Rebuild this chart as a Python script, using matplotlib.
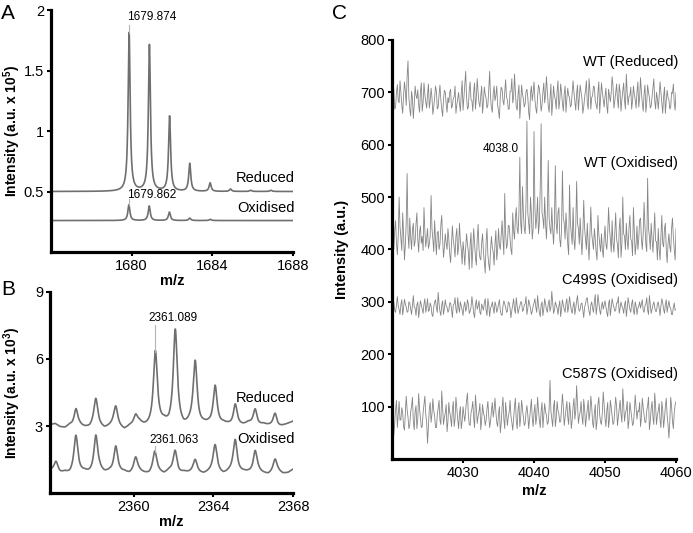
import numpy as np
import matplotlib
matplotlib.use("Agg")
import matplotlib.pyplot as plt

plt.rcParams['font.family'] = ['Liberation Sans', 'DejaVu Sans']
plt.rcParams['mathtext.fontset'] = 'custom'
plt.rcParams['mathtext.rm'] = 'Liberation Sans'
plt.rcParams['mathtext.bf'] = 'Liberation Sans:bold'

# ---------------- Panel A data (peak lists) ----------------
a_red_base = 0.50
a_red_centers = [1679.874, 1680.88, 1681.88, 1682.88, 1683.89, 1684.9, 1685.9, 1686.9]
a_red_tops = [1.81, 1.71, 1.12, 0.73, 0.57, 0.52, 0.51, 0.51]
a_ox_base = 0.26
a_ox_centers = [1679.862, 1680.87, 1681.87, 1682.88, 1683.9]
a_ox_tops = [0.39, 0.38, 0.33, 0.28, 0.27]
a_xticks = [1680, 1684, 1688]
a_yticks = [0.5, 1, 1.5, 2]
a_yticklabels = ['0.5', '1', '1.5', '2']

# ---------------- Panel B data ----------------
b_red_baseline = [3.05, 3.1, 2.95, 2.9, 3.0, 2.85, 2.95, 2.9, 2.88, 3.0, 2.92, 2.85, 2.95, 3.05, 2.9,
                  2.8, 2.95, 3.0, 3.1, 2.95, 2.9, 2.85, 2.95, 3.05, 2.9, 3.0, 2.92, 2.85, 2.98, 3.05,
                  2.9, 3.0, 3.0, 2.9, 2.95, 3.05, 3.0, 2.9, 2.95, 3.0, 3.1, 3.0, 2.95, 3.05, 3.0,
                  2.95, 2.9, 3.0, 3.1, 3.2]
b_ox_baseline = [1.0, 0.95, 0.85, 0.9, 0.8, 0.88, 0.85, 0.9, 0.82, 0.8, 0.92, 0.85, 0.9, 0.8, 0.85,
                 0.9, 0.82, 0.88, 0.92, 0.85, 0.8, 0.9, 0.88, 0.82, 0.95, 0.85, 0.8, 0.9, 0.88, 0.92,
                 0.85, 0.82, 0.9, 0.95, 0.85, 0.8, 0.9, 0.95, 0.85, 0.9, 0.88, 0.82, 0.9, 0.85, 0.8,
                 0.88, 0.92, 0.85, 0.9, 1.05]
b_red_centers = [2357.1, 2358.1, 2359.1, 2360.1, 2361.089, 2362.09, 2363.09, 2364.09, 2365.1, 2366.1, 2367.1]
b_red_tops = [3.75, 4.2, 3.85, 3.45, 6.3, 7.24, 5.84, 4.75, 3.93, 3.73, 3.55]
b_ox_centers = [2356.1, 2357.1, 2358.1, 2359.1, 2360.1, 2361.063, 2362.08, 2363.09, 2364.09, 2365.1, 2366.1, 2367.1]
b_ox_tops = [1.39, 2.55, 2.55, 2.06, 1.57, 1.84, 1.88, 1.46, 2.13, 2.36, 1.87, 1.5]
b_xticks = [2360, 2364, 2368]
b_yticks = [3, 6, 9]

# ---------------- Panel C data (m/z 4020..4060, step 0.125) ----------------
c_wt_red = [
    690, 712, 705, 668, 672, 700, 715, 684, 680, 722, 698, 676, 660, 694, 720, 702, 675, 730, 760, 690,
    668, 655, 702, 688, 650, 676, 712, 694, 688, 705, 676, 662, 700, 718, 664, 680, 718, 696, 682, 670,
    695, 716, 670, 684, 708, 690, 658, 672, 690, 712, 702, 668, 672, 695, 714, 686, 668, 654, 686, 704,
    700, 678, 662, 690, 680, 700, 706, 670, 674, 688, 692, 712, 660, 676, 688, 700, 678, 664, 698, 722,
    666, 690, 716, 740, 690, 668, 672, 704, 720, 686, 684, 664, 700, 718, 668, 690, 726, 700, 680, 672,
    694, 712, 660, 682, 710, 696, 688, 670, 676, 706, 740, 690, 670, 662, 698, 712, 684, 694, 712, 676,
    664, 650, 692, 710, 706, 684, 676, 700, 724, 690, 686, 668, 668, 702, 702, 726, 680, 690, 735, 700,
    672, 666, 696, 714, 650, 680, 714, 696, 688, 672, 678, 702, 706, 690, 662, 648, 698, 712, 684, 700,
    720, 686, 670, 660, 692, 714, 708, 690, 664, 676, 700, 718, 680, 696, 730, 702, 674, 662, 690, 716,
    656, 680, 712, 694, 686, 668, 702, 722, 668, 684, 716, 700, 680, 664, 696, 712, 662, 688, 708, 694,
    690, 672, 676, 698, 722, 700, 684, 666, 698, 714, 666, 690, 714, 700, 688, 660, 672, 690, 704, 722,
    680, 668, 726, 704, 668, 690, 694, 712, 710, 684, 676, 668, 700, 720, 660, 690, 718, 700, 686, 672,
    692, 708, 674, 660, 706, 694, 682, 700, 730, 712, 670, 684, 698, 716, 688, 670, 716, 700, 664, 686,
    702, 718, 684, 668, 735, 700, 676, 692, 694, 710, 668, 684, 712, 696, 686, 670, 700, 720, 672, 690,
    728, 700, 680, 664, 696, 714, 662, 680, 714, 700, 690, 670, 674, 692, 708, 726, 684, 668, 700, 688,
    668, 692, 720, 700, 678, 660, 692, 710, 660, 684, 704, 690, 686, 668, 672, 700, 698, 716, 680, 666,
    700]
c_wt_ox = [
    440, 418, 400, 436, 455, 412, 390, 426, 500, 444, 420, 398, 470, 430, 380, 410, 452, 545, 430, 402,
    460, 424, 400, 438, 450, 406, 415, 448, 470, 420, 395, 432, 445, 412, 425, 398, 480, 436, 405, 420,
    440, 402, 410, 426, 503, 440, 420, 396, 455, 418, 390, 432, 435, 400, 410, 446, 465, 420, 385, 404,
    430, 412, 400, 440, 420, 392, 375, 410, 445, 418, 405, 386, 425, 440, 390, 404, 450, 416, 400, 372,
    415, 396, 370, 404, 430, 410, 395, 362, 410, 432, 365, 398, 440, 412, 385, 370, 420, 448, 400, 384,
    380, 412, 430, 396, 375, 355, 415, 440, 390, 372, 360, 398, 425, 404, 395, 370, 410, 436, 380, 400,
    440, 408, 400, 426, 455, 420, 390, 507, 430, 402, 410, 446, 445, 420, 400, 390, 470, 436, 420, 460,
    480, 440, 430, 470, 576, 450, 430, 520, 470, 440, 430, 490, 645, 470, 450, 430, 500, 470, 420, 440,
    625, 480, 440, 460, 500, 430, 450, 520, 640, 470, 460, 440, 500, 450, 420, 470, 570, 460, 440, 430,
    480, 440, 410, 450, 560, 450, 430, 470, 480, 420, 405, 440, 550, 460, 450, 420, 470, 440, 410, 390,
    523, 450, 430, 410, 480, 420, 400, 440, 530, 450, 440, 410, 460, 420, 390, 430, 494, 440, 420, 400,
    450, 410, 380, 430, 481, 430, 415, 400, 440, 420, 395, 380, 465, 430, 410, 396, 430, 400, 385, 420,
    445, 410, 400, 430, 480, 440, 420, 395, 455, 412, 395, 430, 470, 420, 410, 384, 440, 460, 385, 410,
    500, 430, 425, 400, 450, 416, 400, 440, 465, 420, 415, 388, 480, 436, 390, 410, 445, 400, 420, 456,
    460, 420, 400, 430, 490, 444, 410, 396, 536, 440, 425, 400, 450, 420, 395, 430, 470, 416, 415, 380,
    440, 400, 380, 426, 465, 412, 405, 440, 450, 400, 375, 410, 430, 406, 395, 440, 460, 424, 400, 380,
    440]
c_c499s = [
    290, 298, 300, 284, 280, 296, 310, 292, 285, 276, 295, 304, 275, 288, 305, 296, 290, 280, 282, 300,
    298, 286, 276, 294, 312, 290, 288, 274, 294, 300, 270, 286, 302, 294, 286, 278, 296, 306, 280, 290,
    306, 282, 284, 298, 292, 276, 272, 290, 300, 304, 288, 280, 318, 296, 282, 274, 294, 302, 276, 288,
    304, 292, 290, 280, 284, 298, 298, 286, 270, 294, 296, 308, 286, 278, 308, 290, 280, 300, 292, 284,
    274, 292, 300, 282, 288, 304, 296, 278, 282, 290, 310, 296, 278, 270, 294, 304, 286, 292, 302, 280,
    276, 296, 290, 284, 298, 306, 284, 274, 306, 294, 272, 288, 292, 300, 288, 278, 300, 294, 280, 286,
    296, 304, 284, 276, 274, 292, 302, 296, 290, 280, 282, 300, 298, 288, 270, 284, 294, 306, 286, 278,
    308, 292, 278, 286, 292, 300, 300, 282, 284, 294, 296, 310, 276, 288, 304, 296, 288, 276, 282, 292,
    298, 306, 290, 280, 312, 294, 280, 272, 294, 300, 274, 286, 306, 296, 286, 280, 296, 304, 282, 290,
    320, 298, 278, 284, 300, 294, 288, 276, 292, 302, 272, 286, 304, 294, 286, 280, 298, 306, 280, 290,
    310, 296, 284, 278, 292, 300, 276, 288, 302, 312, 290, 282, 286, 296, 298, 284, 270, 290, 296, 306,
    308, 292, 282, 274, 294, 300, 288, 280, 300, 314, 276, 290, 314, 298, 284, 276, 292, 300, 286, 294,
    302, 290, 280, 272, 296, 304, 274, 290, 306, 296, 290, 282, 284, 298, 298, 310, 278, 288, 300, 292,
    288, 278, 294, 302, 272, 288, 308, 296, 286, 280, 296, 304, 282, 276, 300, 292, 276, 288, 292, 300,
    288, 296, 304, 284, 280, 292, 296, 308, 284, 276, 312, 296, 278, 286, 294, 300, 290, 282, 282, 296,
    300, 288, 274, 292, 306, 298, 286, 278, 296, 304, 280, 292, 302, 290, 288, 276, 276, 290, 298, 284,
    285]
c_c587s = [
    70, 92, 45, 68, 95, 112, 60, 84, 110, 74, 75, 98, 88, 62, 55, 86, 120, 94, 80, 58,
    65, 90, 100, 118, 72, 56, 90, 102, 58, 76, 125, 96, 78, 60, 62, 88, 105, 120, 85, 70,
    30, 64, 95, 108, 70, 86, 115, 92, 82, 60, 60, 84, 98, 112, 74, 66, 130, 96, 66, 80,
    88, 104, 52, 72, 108, 90, 80, 62, 94, 110, 62, 76, 118, 96, 76, 58, 86, 100, 58, 72,
    100, 84, 72, 94, 112, 126, 84, 66, 64, 88, 96, 110, 78, 60, 122, 98, 68, 82, 90, 106,
    56, 74, 104, 88, 82, 64, 74, 96, 110, 82, 60, 72, 92, 108, 80, 94, 116, 90, 70, 62,
    86, 100, 50, 68, 98, 118, 76, 58, 108, 86, 64, 80, 90, 112, 82, 70, 55, 78, 100, 116,
    72, 58, 94, 108, 62, 80, 112, 96, 80, 64, 68, 90, 102, 84, 58, 76, 96, 114, 78, 62,
    88, 104, 66, 80, 118, 94, 74, 60, 92, 108, 60, 82, 106, 90, 84, 66, 70, 96, 150, 92,
    76, 62, 98, 112, 62, 78, 110, 92, 86, 70, 72, 96, 124, 100, 64, 80, 94, 110, 80, 66,
    108, 90, 58, 74, 100, 116, 76, 92, 140, 104, 68, 82, 90, 110, 82, 66, 114, 96, 62, 78,
    96, 112, 74, 88, 120, 100, 70, 60, 88, 104, 56, 72, 104, 118, 84, 70, 66, 90, 128, 104,
    78, 62, 92, 108, 60, 76, 112, 98, 82, 66, 70, 94, 118, 102, 64, 80, 98, 112, 86, 70,
    134, 104, 72, 88, 94, 110, 58, 74, 108, 94, 80, 64, 68, 90, 122, 100, 76, 92, 90, 108,
    62, 80, 116, 98, 84, 70, 70, 92, 102, 118, 56, 72, 96, 110, 80, 66, 126, 100, 66, 84,
    92, 106, 74, 60, 110, 94, 60, 78, 100, 116, 82, 66, 40, 72, 118, 100, 72, 58, 88, 104,
    110]
c_xticks = [4030, 4040, 4050, 4060]
c_yticks = [100, 200, 300, 400, 500, 600, 700, 800]

TRACE = '#6f6f6f'
NOISE = '#858585'
THIN = '#b4b4b4'


def profile(x, base, centers, tops, gamma):
    base = np.asarray(base, dtype=float) * np.ones_like(x)
    y = base.copy()
    for c, t in zip(centers, tops):
        b0 = np.interp(c, x, base)
        y += (t - b0) * gamma**2 / ((x - c)**2 + gamma**2)
    return y


def style(ax):
    for s in ('top', 'right'):
        ax.spines[s].set_visible(False)
    for s in ('left', 'bottom'):
        ax.spines[s].set_linewidth(2.3)
    ax.tick_params(direction='out', length=3, width=1.5, labelsize=10.5, pad=2)


fig = plt.figure(figsize=(6.93, 5.33), dpi=100)

# ---------------- A ----------------
axA = fig.add_axes([0.0736, 0.5272, 0.3492, 0.454])
xa = np.linspace(1676, 1688, 3000)
axA.plot(xa, profile(xa, a_red_base, a_red_centers, a_red_tops, 0.06), color=TRACE, lw=1.2)
axA.plot(xa, profile(xa, a_ox_base, a_ox_centers, a_ox_tops, 0.06), color=TRACE, lw=1.2)
axA.plot([a_red_centers[0]] * 2, [a_red_tops[0], 1.88], color=THIN, lw=0.8)
axA.plot([a_ox_centers[0]] * 2, [a_ox_tops[0], 0.44], color=THIN, lw=0.8)
axA.text(1679.75, 1.94, '1679.874', fontsize=8.5, va='center', ha='left')
axA.text(1679.75, 0.475, '1679.862', fontsize=8.5, va='center', ha='left')
axA.text(1688.1, 0.61, 'Reduced', fontsize=10.5, va='center', ha='right')
axA.text(1688.1, 0.36, 'Oxidised', fontsize=10.5, va='center', ha='right')
axA.set_xlim(1676, 1688)
axA.set_ylim(0, 2)
axA.set_xticks(a_xticks)
axA.set_yticks(a_yticks)
axA.set_yticklabels(a_yticklabels)
style(axA)
axA.set_xlabel('m/z', fontsize=10.5, fontweight='bold', labelpad=1)
axA.set_ylabel(r'Intensity (a.u. x 10$^\mathbf{5}$)', fontsize=10, fontweight='bold')
axA.yaxis.set_label_coords(-0.115, 0.5)

# ---------------- B ----------------
axB = fig.add_axes([0.0722, 0.075, 0.3506, 0.3772])
xb = np.linspace(2355.8, 2368, 3000)
bxr = np.linspace(2355.8, 2368, len(b_red_baseline))
bxo = np.linspace(2355.8, 2368, len(b_ox_baseline))
axB.plot(xb, profile(xb, np.interp(xb, bxr, b_red_baseline), b_red_centers, b_red_tops, 0.12),
         color=TRACE, lw=1.2)
axB.plot(xb, profile(xb, np.interp(xb, bxo, b_ox_baseline), b_ox_centers, b_ox_tops, 0.12),
         color=TRACE, lw=1.2)
axB.plot([b_red_centers[4]] * 2, [b_red_tops[4], 7.5], color=THIN, lw=0.8)
axB.plot([b_ox_centers[5]] * 2, [b_ox_tops[5], 2.1], color=THIN, lw=0.8)
axB.text(2360.72, 7.84, '2361.089', fontsize=8.5, va='center', ha='left')
axB.text(2360.77, 2.37, '2361.063', fontsize=8.5, va='center', ha='left')
axB.text(2368.1, 4.25, 'Reduced', fontsize=10.5, va='center', ha='right')
axB.text(2368.1, 2.42, 'Oxidised', fontsize=10.5, va='center', ha='right')
axB.set_xlim(2355.8, 2368)
axB.set_ylim(0, 9)
axB.set_xticks(b_xticks)
axB.set_yticks(b_yticks)
style(axB)
axB.set_xlabel('m/z', fontsize=10.5, fontweight='bold', labelpad=1)
axB.set_ylabel(r'Intensity (a.u. x 10$^\mathbf{3}$)', fontsize=10, fontweight='bold')
axB.yaxis.set_label_coords(-0.113, 0.5)

# ---------------- C ----------------
axC = fig.add_axes([0.5657, 0.1388, 0.4098, 0.7862])
for series in (c_wt_red, c_wt_ox, c_c499s, c_c587s):
    xc = np.linspace(4020, 4060, len(series))
    axC.plot(xc, series, color=NOISE, lw=0.6)
axC.text(4037.8, 592, '4038.0', fontsize=8.5, va='center', ha='right')
axC.text(4060.3, 758, 'WT (Reduced)', fontsize=10.5, va='center', ha='right')
axC.text(4060.3, 565, 'WT (Oxidised)', fontsize=10.5, va='center', ha='right')
axC.text(4060.3, 341, 'C499S (Oxidised)', fontsize=10.5, va='center', ha='right')
axC.text(4060.3, 163, 'C587S (Oxidised)', fontsize=10.5, va='center', ha='right')
axC.set_xlim(4020, 4060)
axC.set_ylim(0, 800)
axC.set_xticks(c_xticks)
axC.set_yticks(c_yticks)
style(axC)
axC.set_xlabel('m/z', fontsize=10.5, fontweight='bold', labelpad=3)
axC.set_ylabel('Intensity (a.u.)', fontsize=10.5, fontweight='bold')
axC.yaxis.set_label_coords(-0.15, 0.5)

# panel letters
fig.text(0.002, 0.993, 'A', fontsize=15, va='top', ha='left')
fig.text(0.002, 0.475, 'B', fontsize=15, va='top', ha='left')
fig.text(0.479, 0.993, 'C', fontsize=15, va='top', ha='left')

fig.savefig('out.png', dpi=100)
